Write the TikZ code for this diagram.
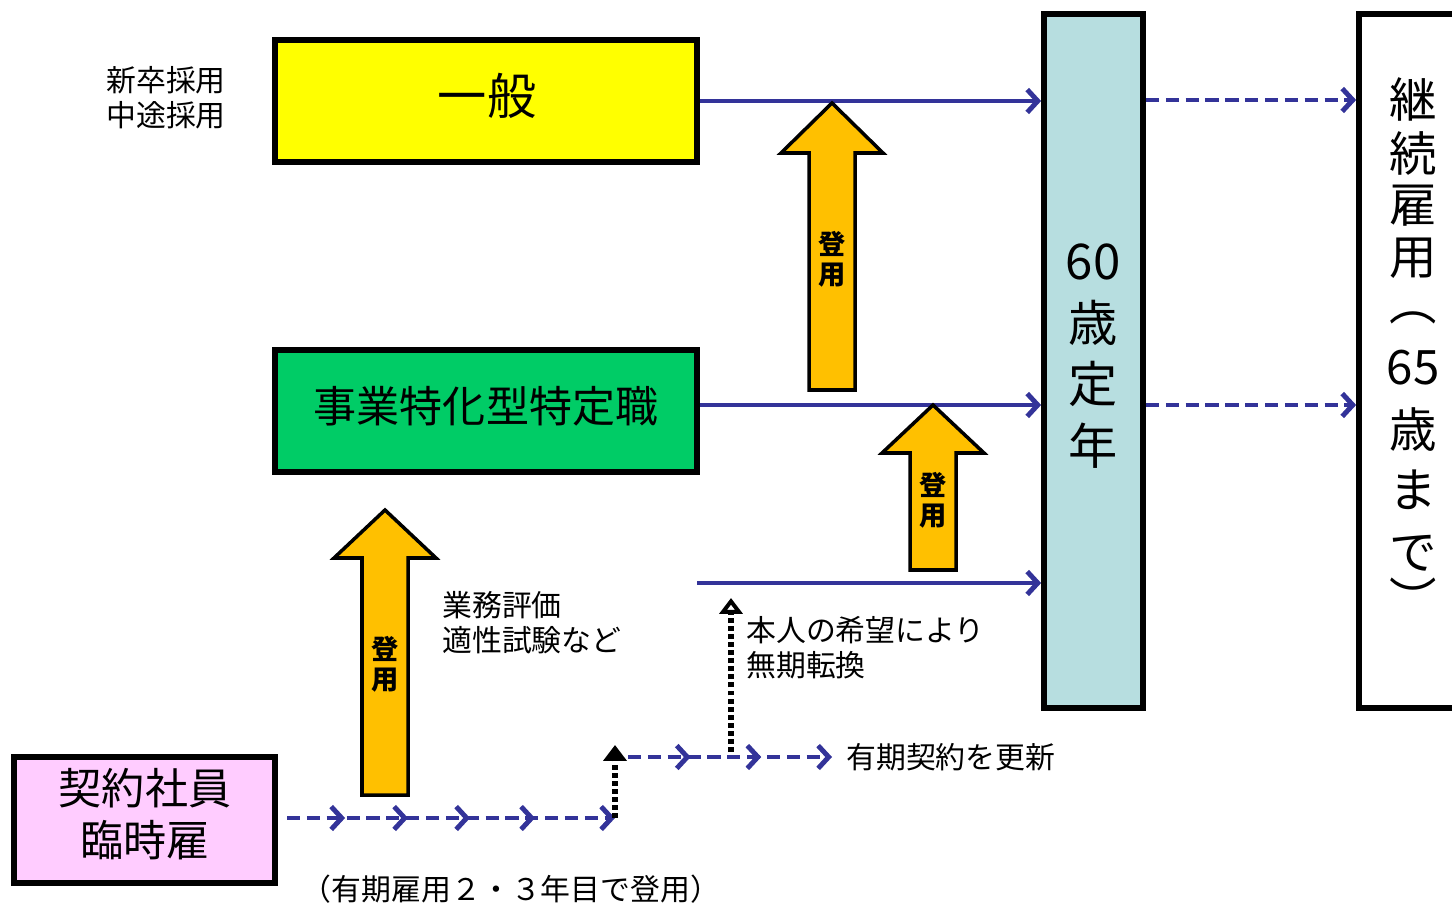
\documentclass[tikz,border=0pt]{standalone}
\usepackage{fontspec}
\setmainfont{Noto Sans CJK JP}
\usetikzlibrary{arrows.meta,decorations.markings}
\definecolor{lineblue}{RGB}{51,51,153}
\definecolor{boxyellow}{RGB}{255,255,0}
\definecolor{boxgreen}{RGB}{0,204,102}
\definecolor{boxpink}{RGB}{255,204,255}
\definecolor{boxcyan}{RGB}{183,222,224}
\definecolor{arroworange}{RGB}{255,192,0}
\newcommand\myblockarrow[4]{%
  \draw[blockarrow] (#1-23,#4) -- (#1-23,#3) -- (#1-51,#3) -- (#1,#2) -- (#1+51,#3) -- (#1+23,#3) -- (#1+23,#4) -- cycle;}
\begin{document}
\begin{tikzpicture}[x=0.02cm,y=-0.02cm,
  box/.style={draw=black,line width=3.3pt,inner sep=0pt},
  bluetip/.style={-{Straight Barb[length=6pt,width=13pt]}},
  solidarrow/.style={draw=lineblue,line width=2.8pt,bluetip},
  dasharrow/.style={draw=lineblue,line width=2.8pt,dash pattern=on 7.5pt off 3.8pt,bluetip},
  dotarrow/.style={draw=black,line width=3.6pt,dash pattern=on 2.8pt off 1.8pt,-{Triangle[length=9pt,width=13pt]}},
  dotarrowopen/.style={draw=black,line width=3.6pt,dash pattern=on 2.8pt off 1.8pt,-{Triangle[open,length=9pt,width=13pt]}},
  blockarrow/.style={draw=black,line width=2pt,fill=arroworange,line join=miter},
  smalltext/.style={font=\fontsize{17}{19.8}\selectfont,inner sep=0pt},
  arrowlabel/.style={font=\fontsize{15.5}{17}\selectfont\bfseries,align=center,inner sep=0pt},
  vchar/.style={font=\fontsize{27}{30}\selectfont,inner sep=0pt},
  lowmarks/.style={postaction={decorate},decoration={markings,
     mark=at position 0.177 with {\arrow{Straight Barb[length=6pt,width=13pt]}},
     mark=at position 0.369 with {\arrow{Straight Barb[length=6pt,width=13pt]}},
     mark=at position 0.558 with {\arrow{Straight Barb[length=6pt,width=13pt]}},
     mark=at position 0.756 with {\arrow{Straight Barb[length=6pt,width=13pt]}}}},
  highmarks/.style={postaction={decorate},decoration={markings,
     mark=at position 0.307 with {\arrow{Straight Barb[length=6pt,width=13pt]}},
     mark=at position 0.653 with {\arrow{Straight Barb[length=6pt,width=13pt]}}}}
]
\useasboundingbox (0,0) rectangle (1452,905);
\clip (0,0) rectangle (1452,905);

% boxes
\node[box,fill=boxyellow,minimum width=8.44cm,minimum height=2.44cm] (ippan) at (486,101) {};
\node[font=\fontsize{28}{32}\selectfont,inner sep=0pt] (ippanlabel) at (487,96) {一般};
\node[box,fill=boxgreen,minimum width=8.44cm,minimum height=2.44cm] (jigyo) at (486,411) {};
\node[font=\fontsize{24.5}{28}\selectfont,inner sep=0pt] (jigyolabel) at (486,406) {事業特化型特定職};
\node[box,fill=boxpink,minimum width=5.22cm,minimum height=2.52cm] (keiyaku) at (144.5,820) {};
\node[font=\fontsize{24.5}{29.5}\selectfont,align=center,inner sep=0pt] (keiyakulabel) at (145,814) {契約社員\\臨時雇};
\node[box,fill=boxcyan,minimum width=1.98cm,minimum height=13.88cm] (teinen) at (1093.5,361) {};
\node[font=\fontsize{28}{35}\selectfont,align=center,inner sep=0pt] (teinenlabel) at (1093,356) {60\\歳\\定\\年};
\node[box,fill=white,minimum width=2.4cm,minimum height=13.88cm] (keizoku) at (1419,361) {};
\foreach \ch/\yy [count=\i] in {継/99,続/153,雇/206,用/258,︵/318,65/368,歳/430,ま/490,で/553,︶/598}
  \node[vchar] (keizokuchar\i) at (1413,\yy) {\ch};

% solid blue lines to 60
\coordinate (thirdstart) at (697,583);
\draw[solidarrow] (ippan.east) -- (ippan.east -| teinen.west);
\draw[solidarrow] (jigyo.east |- 0,405) -- (teinen.west |- 0,405);
\draw[solidarrow] (thirdstart) -- (thirdstart -| teinen.west);

% dashed blue to keizoku
\draw[dasharrow] (teinen.east |- 0,100) -- (keizoku.west |- 0,100);
\draw[dasharrow] (teinen.east |- 0,405) -- (keizoku.west |- 0,405);

% block arrows
\myblockarrow{832}{103}{153}{390}
\myblockarrow{933}{405}{453}{570}
\myblockarrow{385}{510}{558}{795}
\node[arrowlabel] (toyo1) at (832,259) {登\\用};
\node[arrowlabel] (toyo2) at (933,500) {登\\用};
\node[arrowlabel] (toyo3) at (385,664) {登\\用};

% lower dashed sequence
\coordinate (lowstart) at (287,818);
\coordinate (lowend) at (615,818);
\coordinate (uptip) at (615,745);
\coordinate (highstart) at (628,757);
\coordinate (muki) at (731,752);
\coordinate (mukitip) at (731,598);
\node[smalltext,anchor=west] (koshin) at (846,757) {有期契約を更新};
\draw[dasharrow,lowmarks] (lowstart) -- (lowend);
\draw[dotarrow] (lowend) -- (uptip);
\draw[dasharrow,highmarks] (highstart) -- (koshin.west -| 832,0);
\draw[dotarrowopen] (muki) -- (mukitip);

% texts
\node[smalltext,align=center] (saiyo) at (166,98) {新卒採用\\中途採用};
\node[smalltext,align=left,anchor=west] (hyoka) at (442,623) {業務評価\\適性試験など};
\node[smalltext,align=left,anchor=west] (kibo) at (746,648) {本人の希望により\\無期転換};
\node[smalltext] (note) at (511,889) {（有期雇用２・３年目で登用）};
\end{tikzpicture}
\end{document}
